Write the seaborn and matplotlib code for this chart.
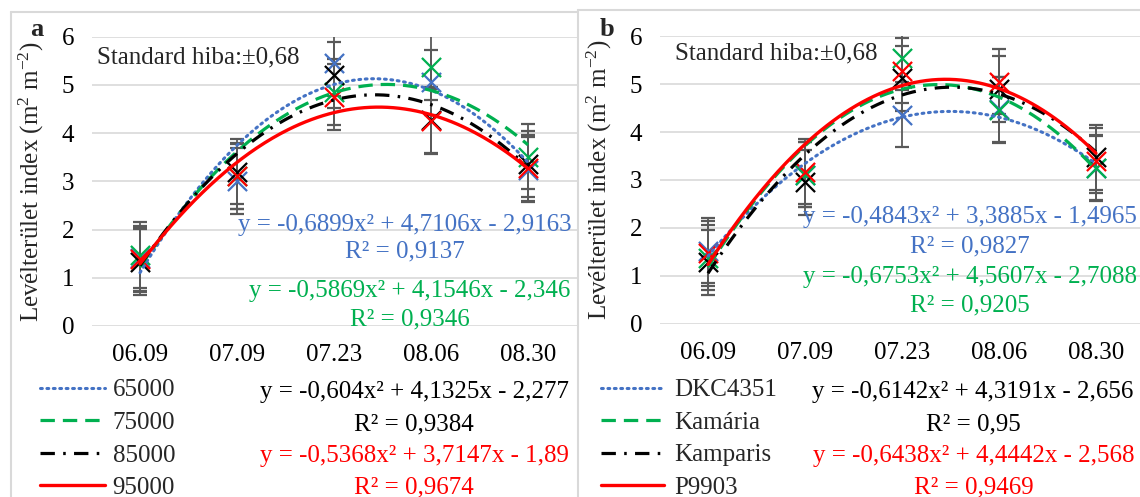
import numpy as np
import pandas as pd
import matplotlib
matplotlib.use("Agg")
import matplotlib.pyplot as plt
from matplotlib.lines import Line2D
import seaborn as sns

# ---- data -------------------------------------------------------------
dates = ["06.09", "07.09", "07.23", "08.06", "08.30"]

# a: plant densities (plants/ha)
density_names = ["65000", "75000", "85000", "95000"]
lai_65000 = [1.40, 3.00, 5.45, 5.05, 3.24]
lai_75000 = [1.47, 3.11, 4.85, 5.37, 3.51]
lai_85000 = [1.33, 3.20, 5.20, 4.27, 3.36]
lai_95000 = [1.38, 3.10, 4.75, 4.24, 3.27]
fit_65000 = [-0.6899, 4.7106, -2.9163]
fit_75000 = [-0.5869, 4.1546, -2.346]
fit_85000 = [-0.604, 4.1325, -2.277]
fit_95000 = [-0.5368, 3.7147, -1.89]
r2_density = [0.9137, 0.9346, 0.9384, 0.9674]

# b: hybrids
hybrid_names = ["DKC4351", "Kamária", "Kamparis", "P9903"]
lai_dkc4351 = [1.52, 3.11, 4.36, 4.48, 3.25]
lai_kamaria = [1.37, 3.11, 5.55, 4.46, 3.24]
lai_kamparis = [1.28, 2.95, 5.12, 4.90, 3.47]
lai_p9903 = [1.47, 3.17, 5.28, 5.05, 3.40]
fit_dkc4351 = [-0.4843, 3.3885, -1.4965]
fit_kamaria = [-0.6753, 4.5607, -2.7088]
fit_kamparis = [-0.6142, 4.3191, -2.656]
fit_p9903 = [-0.6438, 4.4442, -2.568]
r2_hybrid = [0.9827, 0.9205, 0.95, 0.9469]

std_error = 0.68
y_ticks = [0, 1, 2, 3, 4, 5, 6]

# ---- style ------------------------------------------------------------
sns.set_theme(style="white")
plt.rcParams["font.family"] = ["Liberation Serif", "DejaVu Serif"]
plt.rcParams["mathtext.default"] = "regular"
FS = 18

colors = ["#4472C4", "#00B050", "#000000", "#FF0000"]
styles = [
    dict(linestyle=(0, (0.6, 1.5)), lw=2.2, dash_capstyle="round"),
    dict(linestyle=(0, (4.5, 2.5)), lw=2.3, dash_capstyle="butt"),
    dict(linestyle=(0, (4.5, 2.6, 0.8, 2.6)), lw=2.3, dash_capstyle="butt"),
    dict(linestyle="-", lw=2.4),
]

W, H = 1140, 497
fig = plt.figure(figsize=(W / 100, H / 100), dpi=100)


def fx(px):
    return px / W


def fy(py):
    return 1 - py / H


def fmt(v):
    return f"{v:g}".replace(".", ",")


def eq_text(c):
    a, b, k = c
    sign = "-" if k < 0 else "+"
    return f"y = {fmt(a)}x² + {fmt(b)}x {sign} {fmt(abs(k))}"


def panel(box, xlim, series, fits, r2s, names, tag, tag_xy, note_xy,
          ylab_x, eq_pos, leg_xy, handle_len, text_pad):
    left, top, right, bottom = box
    ax = fig.add_axes([fx(left), fy(bottom), fx(right - left),
                       (bottom - top) / H])
    x = np.arange(1, len(dates) + 1)
    xs = np.linspace(1, 5, 200)

    # error bars
    for vals in series:
        ax.errorbar(x, vals, yerr=std_error, fmt="none", ecolor="#595959",
                    elinewidth=1.3, capsize=5, capthick=1.6, zorder=2)
    # measured points
    for vals, col in zip(series, colors):
        sns.scatterplot(x=x, y=vals, marker="x", s=190, color=col,
                        linewidth=1.6, ax=ax, zorder=3, legend=False)
    # polynomial trend lines
    handles = []
    for c, col, st in zip(fits, colors, styles):
        curve = pd.DataFrame({"x": xs, "y": np.polyval(c, xs)})
        sns.lineplot(data=curve, x="x", y="y", color=col, ax=ax, zorder=4,
                     legend=False, **st)
        handles.append(Line2D([], [], color=col, **st))

    ax.set_xlim(*xlim)
    ax.set_ylim(0, 6)
    ax.set_yticks(y_ticks)
    ax.set_xticks(x)
    ax.set_xticklabels(dates)
    ax.tick_params(axis="both", length=0, labelsize=FS, colors="#000000")
    ax.tick_params(axis="y", pad=12.5)
    ax.tick_params(axis="x", pad=13)
    ax.grid(axis="y", color="#D9D9D9", lw=1.2)
    ax.grid(axis="x", visible=False)
    for s in ax.spines.values():
        s.set_visible(False)
    ax.set_xlabel("")
    ax.set_ylabel("")

    fig.text(fx(ylab_x), fy((top + bottom) / 2),
             "Levélterület index (m$^{2}$ m$^{-2}$)",
             rotation=90, ha="center", va="center", fontsize=FS)
    fig.text(fx(tag_xy[0]), fy(tag_xy[1]), tag, fontsize=19,
             fontweight="bold", ha="center", va="center")
    fig.text(fx(note_xy[0]), fy(note_xy[1]), f"Standard hiba:±{fmt(std_error)}",
             fontsize=FS, ha="left", va="center")

    for c, r2, col, (ex, ey, ry) in zip(fits, r2s, colors, eq_pos):
        fig.text(fx(ex), fy(ey), eq_text(c), color=col, fontsize=FS,
                 ha="center", va="center")
        fig.text(fx(ex), fy(ry), f"R² = {fmt(r2)}", color=col, fontsize=FS,
                 ha="center", va="center")

    fig.legend(handles, names, loc="upper left",
               bbox_to_anchor=(fx(leg_xy[0]), fy(leg_xy[1])),
               frameon=False, fontsize=FS, handlelength=handle_len,
               handletextpad=text_pad, labelspacing=0.40, borderpad=0,
               borderaxespad=0)
    return ax


# panel a
panel((91.5, 36.5, 576.5, 326), (0.5, 5.5),
      [lai_65000, lai_75000, lai_85000, lai_95000],
      [fit_65000, fit_75000, fit_85000, fit_95000], r2_density,
      density_names, "a", (37, 30), (97, 57), 31,
      [(405, 225, 251), (410, 291, 319), (414, 392, 424), (414, 456, 487)],
      (40, 379), 2.6, 0.3)

# panel b
panel((659.5, 36.3, 1140, 323.5), (0.5, 5.454),
      [lai_dkc4351, lai_kamaria, lai_kamparis, lai_p9903],
      [fit_dkc4351, fit_kamaria, fit_kamparis, fit_p9903], r2_hybrid,
      hybrid_names, "b", (607, 30), (675, 53), 599,
      [(970, 217, 246), (970, 277, 305), (973, 392, 424), (974, 456, 487)],
      (601, 379), 2.5, 0.44)

# frames around the two charts
frame = dict(color="#D9D9D9", lw=1.5, transform=fig.transFigure)
fig.add_artist(Line2D([fx(11), fx(11)], [fy(12), 0], **frame))
fig.add_artist(Line2D([fx(11), fx(577)], [fy(12), fy(12)], **frame))
fig.add_artist(Line2D([fx(578), fx(578)], [fy(10), 0], **frame))
fig.add_artist(Line2D([fx(578), 1], [fy(10), fy(10)], **frame))

fig.savefig("out.png", dpi=100, facecolor="white")
